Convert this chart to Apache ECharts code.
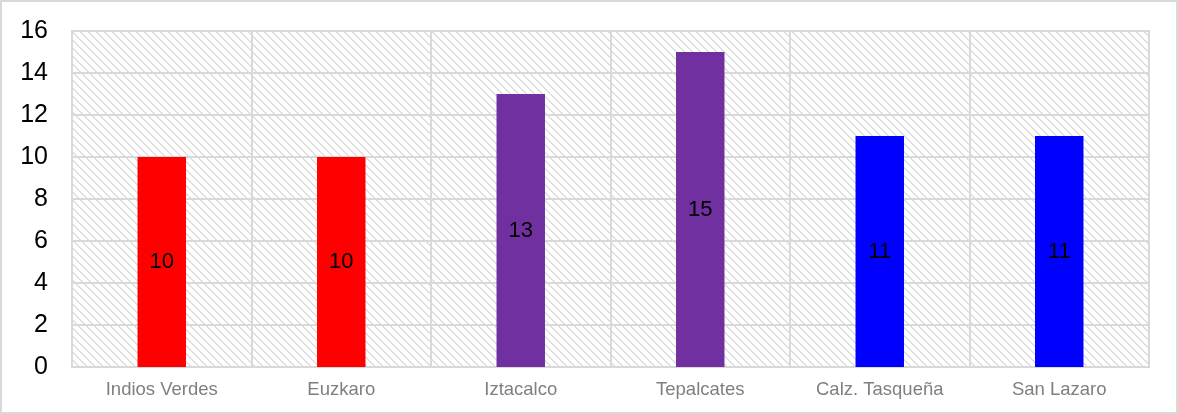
<!DOCTYPE html>
<html><head><meta charset="utf-8">
<script src="https://cdn.jsdelivr.net/npm/echarts@6/dist/echarts.min.js"></script>
<style>
html,body{margin:0;padding:0;background:#fff;}
#wrap{position:absolute;left:0;top:0;width:1178px;height:414px;box-sizing:border-box;border:2px solid #d9d9d9;}
#chart{position:absolute;left:0;top:0;width:1178px;height:414px;}
</style></head>
<body>
<div id="wrap"></div>
<div id="chart"></div>
<script>
const categories = ['Indios Verdes','Euzkaro','Iztacalco','Tepalcates','Calz. Tasqueña','San Lazaro'];
const values = [10,10,13,15,11,11];
const barColors = ['#ff0000','#ff0000','#7030a0','#7030a0','#0000ff','#0000ff'];

const tile = document.createElement('canvas');
tile.width = 8; tile.height = 8;
const tc = tile.getContext('2d');
tc.fillStyle = '#ffffff'; tc.fillRect(0,0,8,8);
tc.fillStyle = '#dedede';
for (let y=0;y<8;y++) for (let x=0;x<8;x++) {
  const d = ((x - y) % 8 + 8) % 8;
  if (d === 0 || d === 1) tc.fillRect(x,y,1,1);
}

const chart = echarts.init(document.getElementById('chart'), null, {renderer:'canvas'});
chart.setOption({
  animation:false,
  grid:{left:72,right:29,top:31,bottom:47,show:true,backgroundColor:{image:tile,repeat:'repeat'},borderColor:'#d9d9d9',borderWidth:2},
  xAxis:{type:'category',data:categories,
    axisLine:{show:true,lineStyle:{color:'#d9d9d9',width:2}},
    axisTick:{show:false},
    splitLine:{show:true,lineStyle:{color:'#d9d9d9',width:2}},
    axisLabel:{color:'#7f7f7f',fontSize:18.5,fontFamily:'Liberation Sans, Arial, sans-serif',margin:13,interval:0}},
  yAxis:{type:'value',min:0,max:16,interval:2,
    axisLine:{show:false},axisTick:{show:false},
    splitLine:{show:true,lineStyle:{color:'#d9d9d9',width:2}},
    axisLabel:{color:'#000',fontSize:25,fontFamily:'Liberation Sans, Arial, sans-serif',margin:24,padding:[5,0,0,0]}},
  series:[{type:'bar',barWidth:'27%',
    data:values.map((v,i)=>({value:v,itemStyle:{color:barColors[i]}})),
    label:{show:true,position:'inside',color:'#000',fontSize:22,fontFamily:'Liberation Sans, Arial, sans-serif',padding:[5,0,0,0]}}]
});
</script>
</body></html>
